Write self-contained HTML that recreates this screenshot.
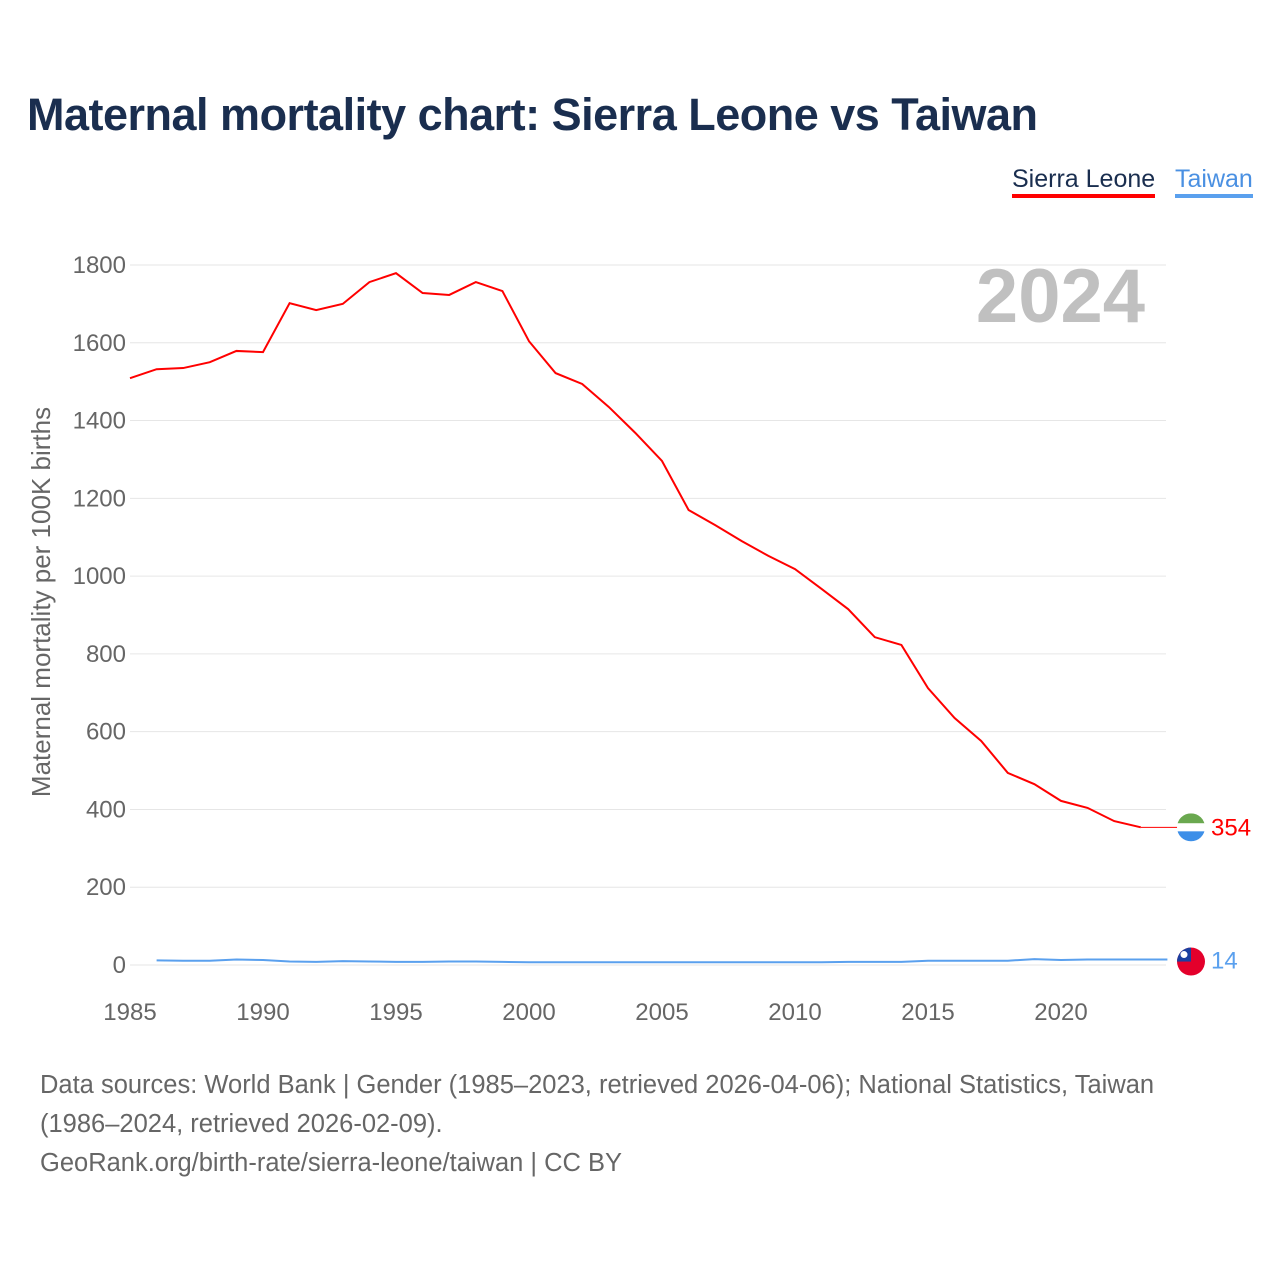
<!DOCTYPE html>
<html><head><meta charset="utf-8"><style>
body{margin:0;background:#fff;font-family:"Liberation Sans",sans-serif}
#wrap{position:relative;width:1280px;height:1280px;overflow:hidden}
h1{position:absolute;left:27px;top:89px;margin:0;font-size:45px;font-weight:bold;color:#1a2e4f;letter-spacing:-0.5px}
.leg{position:absolute;top:165px;font-size:25px}
.foot{position:absolute;left:40px;top:1066px;font-size:25.5px;color:#666;line-height:39px}
</style></head><body>
<div id="wrap">
<h1>Maternal mortality chart: Sierra Leone vs Taiwan</h1>
<div class="leg" style="left:1012px;color:#1a2e4f;border-bottom:4px solid #ff0000;padding-bottom:0">Sierra Leone</div>
<div class="leg" style="left:1175px;color:#4a90e2;border-bottom:4px solid #5aa0ee">Taiwan</div>
<svg id="svg" width="1280" height="1280" style="position:absolute;left:0;top:0"></svg>
<div class="foot">Data sources: World Bank | Gender (1985–2023, retrieved 2026-04-06); National Statistics, Taiwan<br>(1986–2024, retrieved 2026-02-09).<br>GeoRank.org/birth-rate/sierra-leone/taiwan | CC BY</div>
</div>
<script>
const slYears=[1985,1986,1987,1988,1989,1990,1991,1992,1993,1994,1995,1996,1997,1998,1999,2000,2001,2002,2003,2004,2005,2006,2007,2008,2009,2010,2011,2012,2013,2014,2015,2016,2017,2018,2019,2020,2021,2022,2023];
const slValues=[1509,1532,1535,1550,1579,1576,1702,1684,1700,1756,1779,1728,1723,1756,1733,1604,1522,1494,1435,1368,1296,1170,1131,1090,1052,1018,967,915,843,823,712,635,576,494,465,422,404,370,354];
const twYears=[1986,1987,1988,1989,1990,1991,1992,1993,1994,1995,1996,1997,1998,1999,2000,2001,2002,2003,2004,2005,2006,2007,2008,2009,2010,2011,2012,2013,2014,2015,2016,2017,2018,2019,2020,2021,2022,2023,2024];
const twValues=[12,11,11,14,13,9,8,10,9,8,8,9,9,8,7,7,7,7,7,7,7,7,7,7,7,7,8,8,8,11,11,11,11,15,13,14,14,14,14];
const yTicks=[0,200,400,600,800,1000,1200,1400,1600,1800];
const xTicks=[1985,1990,1995,2000,2005,2010,2015,2020];
const X=y=>130+(y-1985)*26.6, Y=v=>965-v*0.38889;
const svg=document.getElementById('svg');const NS='http://www.w3.org/2000/svg';
function mk(t,a,txt){const e=document.createElementNS(NS,t);for(const k in a)e.setAttribute(k,a[k]);if(txt!=null)e.textContent=txt;svg.appendChild(e);return e;}
yTicks.forEach(v=>{
 const l=mk('line',{x1:130,x2:1166,y1:Y(v),y2:Y(v),stroke:'#e6e6e6','stroke-width':1});
 
 
 const t=mk('text',{x:126,y:Y(v)+8,'text-anchor':'end','font-size':24,fill:'#666','font-family':'Liberation Sans'},v);
 
 
});
xTicks.forEach(v=>{
 const t=mk('text',{x:X(v),y:1020,'text-anchor':'middle','font-size':24,fill:'#666','font-family':'Liberation Sans'},v);
 
 
});
const yt=mk('text',{x:0,y:0,transform:'translate(50,602) rotate(-90)','text-anchor':'middle','font-size':26,fill:'#666','font-family':'Liberation Sans'},'Maternal mortality per 100K births');


const yr=mk('text',{x:1145,y:322,'text-anchor':'end','font-size':76,'font-weight':'bold',fill:'#c0c0c0','font-family':'Liberation Sans'},'2024');


const slPts=slYears.map((y,i)=>X(y)+','+Y(slValues[i])).join(' ');
const sl=mk('polyline',{points:slPts,fill:'none',stroke:'#ff0000','stroke-width':2});


const slLast=slValues[slValues.length-1];
const sle=mk('line',{x1:X(slYears[slYears.length-1]),x2:1178,y1:Y(slLast),y2:Y(slLast),stroke:'#ff0000','stroke-width':1});


const twPts=twYears.map((y,i)=>X(y)+','+Y(twValues[i])).join(' ');
const tw=mk('polyline',{points:twPts,fill:'none',stroke:'#5aa0ee','stroke-width':2});


const cy1=Y(slLast);
const cy2=Y(twValues[twValues.length-1])+2;
const d=document.createElementNS(NS,'defs');d.innerHTML='<clipPath id="c1"><circle cx="1191" cy="'+cy1+'" r="14"/></clipPath><clipPath id="c2"><circle cx="1191" cy="'+cy2+'" r="14"/></clipPath>';svg.appendChild(d);
const g1=mk('g',{'clip-path':'url(#c1)'});


g1.innerHTML='<rect x="1177" y="'+(cy1-14)+'" width="28" height="10" fill="#6aa84f"/><rect x="1177" y="'+(cy1-4)+'" width="28" height="8" fill="#fff"/><rect x="1177" y="'+(cy1+4)+'" width="28" height="10" fill="#3d8fe8"/>';
const g2=mk('g',{'clip-path':'url(#c2)'});


g2.innerHTML='<rect x="1177" y="'+(cy2-14)+'" width="28" height="28" fill="#e4002b"/><rect x="1177" y="'+(cy2-14)+'" width="14" height="14" fill="#1a3fa0"/><circle cx="1184" cy="'+(cy2-7)+'" r="3.5" fill="#fff"/>';
const l1=mk('text',{x:1211,y:cy1+8,'font-size':24,fill:'#ff0000','font-family':'Liberation Sans'},slLast);


const l2=mk('text',{x:1211,y:cy2+7,'font-size':24,fill:'#5aa0ee','font-family':'Liberation Sans'},twValues[twValues.length-1]);


</script>
</body></html>
